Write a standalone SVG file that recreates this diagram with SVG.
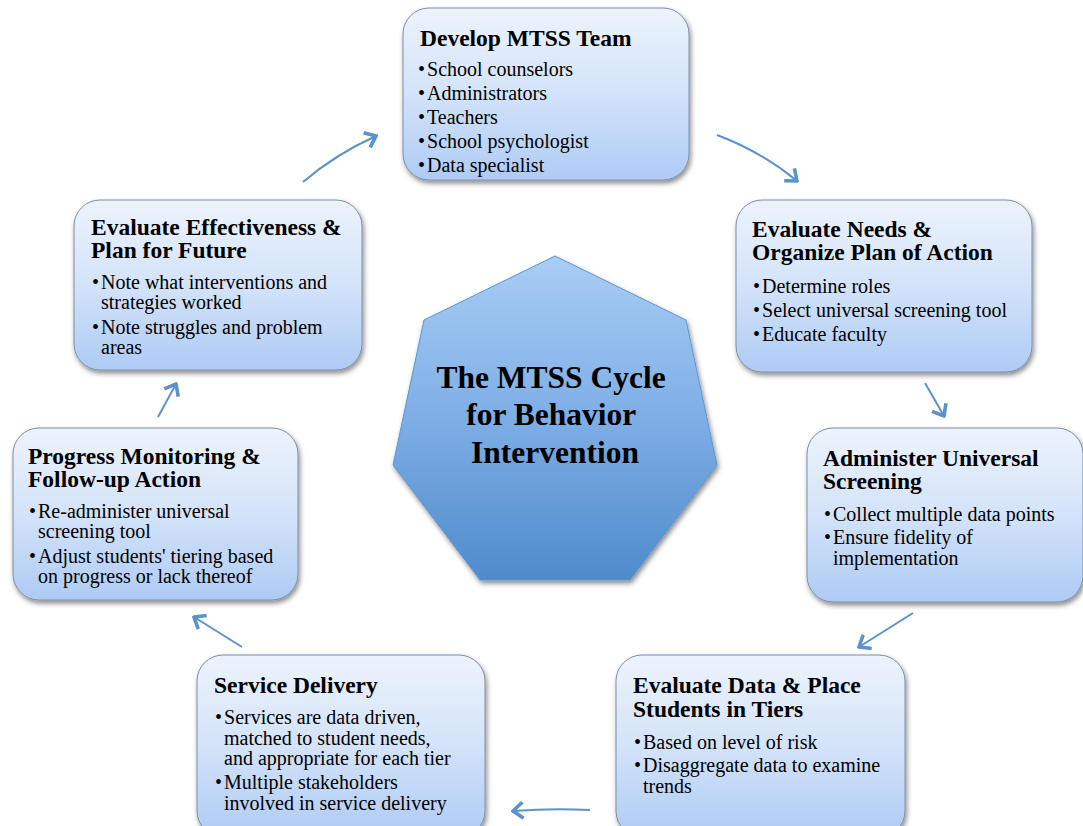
<svg xmlns="http://www.w3.org/2000/svg" width="1083" height="826" viewBox="0 0 1083 826">
  <defs>
    <linearGradient id="boxFill" x1="0" y1="0" x2="0" y2="1">
      <stop offset="0" stop-color="#edf3fc"/>
      <stop offset="0.5" stop-color="#d3e3f9"/>
      <stop offset="1" stop-color="#aecbf4"/>
    </linearGradient>
    <linearGradient id="hexFill" x1="0" y1="0" x2="0" y2="1">
      <stop offset="0" stop-color="#a9cdf5"/>
      <stop offset="0.5" stop-color="#7eaee6"/>
      <stop offset="1" stop-color="#4f8bcb"/>
    </linearGradient>
    <filter id="shadow" x="-10%" y="-10%" width="125%" height="130%">
      <feDropShadow dx="1.5" dy="3" stdDeviation="2.5" flood-color="#000" flood-opacity="0.45"/>
    </filter>
    <marker id="chevron" viewBox="0 0 14 20" refX="12" refY="10" markerWidth="14" markerHeight="20" markerUnits="userSpaceOnUse" orient="auto">
      <path d="M2,2 L12,10 L2,18" fill="none" stroke="#5a93cc" stroke-width="3.6" stroke-linejoin="miter"/>
    </marker>
  </defs>
  <style>
    .box { fill: url(#boxFill); stroke: #7d8ea8; stroke-width: 1; filter: url(#shadow); }
    .hex { fill: url(#hexFill); stroke: #5e95d0; stroke-width: 1; filter: url(#shadow); }
    .title { font-family: "Liberation Serif", "Times New Roman", serif; font-weight: bold; font-size: 23.5px; fill: #000; }
    .body { font-family: "Liberation Serif", "Times New Roman", serif; font-size: 20px; fill: #000; }
    .center { font-family: "Liberation Serif", "Times New Roman", serif; font-weight: bold; font-size: 31.5px; fill: #000; text-anchor: middle; }
    .arrow { fill: none; stroke: #5a93cc; stroke-width: 2; marker-end: url(#chevron); }
  </style>

  <rect width="1083" height="826" fill="#fff"/>

  <!-- centre heptagon -->
  <g id="cycle">
    <polygon class="hex" points="555,256 686,320 717,465 630,580 480,580 393,465 424,320"/>
    <text class="center">
      <tspan x="555" y="388">The MTSS Cycle</tspan>
      <tspan x="555" y="425">for Behavior</tspan>
      <tspan x="555" y="463">Intervention</tspan>
    </text>
  </g>

  <g id="develop-team">
    <rect class="box" x="403" y="8" width="286" height="172" rx="26"/>
    <text class="title" x="420" y="46">Develop MTSS Team</text>
    <text class="body" x="418" y="76">•<tspan dx="2">School counselors</tspan></text>
    <text class="body" x="418" y="100">•<tspan dx="2">Administrators</tspan></text>
    <text class="body" x="418" y="124">•<tspan dx="2">Teachers</tspan></text>
    <text class="body" x="418" y="148">•<tspan dx="2">School psychologist</tspan></text>
    <text class="body" x="418" y="172">•<tspan dx="2">Data specialist</tspan></text>
  </g>

  <g id="evaluate-needs">
    <rect class="box" x="736" y="200" width="296" height="172" rx="26"/>
    <text class="title"><tspan x="752" y="237">Evaluate Needs &amp;</tspan><tspan x="752" y="260">Organize Plan of Action</tspan></text>
    <text class="body" x="753" y="293">•<tspan dx="2">Determine roles</tspan></text>
    <text class="body" x="753" y="317">•<tspan dx="2">Select universal screening tool</tspan></text>
    <text class="body" x="753" y="341">•<tspan dx="2">Educate faculty</tspan></text>
  </g>

  <g id="administer-screening">
    <rect class="box" x="807" y="428" width="276" height="174" rx="26"/>
    <text class="title"><tspan x="823" y="466">Administer Universal</tspan><tspan x="823" y="489">Screening</tspan></text>
    <text class="body" x="824" y="521">•<tspan dx="2">Collect multiple data points</tspan></text>
    <text class="body"><tspan x="824" y="544">•</tspan><tspan dx="2">Ensure fidelity of</tspan><tspan x="833" y="565">implementation</tspan></text>
  </g>

  <g id="evaluate-data">
    <rect class="box" x="616" y="655" width="289" height="182" rx="26"/>
    <text class="title"><tspan x="633" y="693">Evaluate Data &amp; Place</tspan><tspan x="633" y="717">Students in Tiers</tspan></text>
    <text class="body" x="634" y="749">•<tspan dx="2">Based on level of risk</tspan></text>
    <text class="body"><tspan x="634" y="772">•</tspan><tspan dx="2">Disaggregate data to examine</tspan><tspan x="643" y="793">trends</tspan></text>
  </g>

  <g id="service-delivery">
    <rect class="box" x="197" y="655" width="288" height="182" rx="26"/>
    <text class="title" x="214" y="693">Service Delivery</text>
    <text class="body"><tspan x="215" y="724">•</tspan><tspan dx="2">Services are data driven,</tspan><tspan x="224" y="745">matched to student needs,</tspan><tspan x="224" y="765">and appropriate for each tier</tspan></text>
    <text class="body"><tspan x="215" y="789">•</tspan><tspan dx="2">Multiple stakeholders</tspan><tspan x="224" y="810">involved in service delivery</tspan></text>
  </g>

  <g id="progress-monitoring">
    <rect class="box" x="13" y="428" width="285" height="172" rx="26"/>
    <text class="title"><tspan x="28" y="464">Progress Monitoring &amp;</tspan><tspan x="28" y="487">Follow-up Action</tspan></text>
    <text class="body"><tspan x="29" y="518">•</tspan><tspan dx="2">Re-administer universal</tspan><tspan x="38" y="538">screening tool</tspan></text>
    <text class="body"><tspan x="29" y="563">•</tspan><tspan dx="2">Adjust students' tiering based</tspan><tspan x="38" y="583">on progress or lack thereof</tspan></text>
  </g>

  <g id="evaluate-effectiveness">
    <rect class="box" x="74" y="200" width="288" height="170" rx="26"/>
    <text class="title"><tspan x="91" y="235">Evaluate Effectiveness &amp;</tspan><tspan x="91" y="258">Plan for Future</tspan></text>
    <text class="body"><tspan x="92" y="289">•</tspan><tspan dx="2">Note what interventions and</tspan><tspan x="101" y="309">strategies worked</tspan></text>
    <text class="body"><tspan x="92" y="334">•</tspan><tspan dx="2">Note struggles and problem</tspan><tspan x="101" y="354">areas</tspan></text>
  </g>

  <!-- cycle connectors -->
  <g id="connectors">
    <path class="arrow" d="M303,182 Q336,154 376,136"/>
    <path class="arrow" d="M717,135 Q762,152 797,181"/>
    <path class="arrow" d="M925,383 L944,416"/>
    <path class="arrow" d="M913,613 L859,647"/>
    <path class="arrow" d="M590,810 Q552,808 513,811"/>
    <path class="arrow" d="M242,647 L194,617"/>
    <path class="arrow" d="M158,417 L176,384"/>
  </g>
</svg>
